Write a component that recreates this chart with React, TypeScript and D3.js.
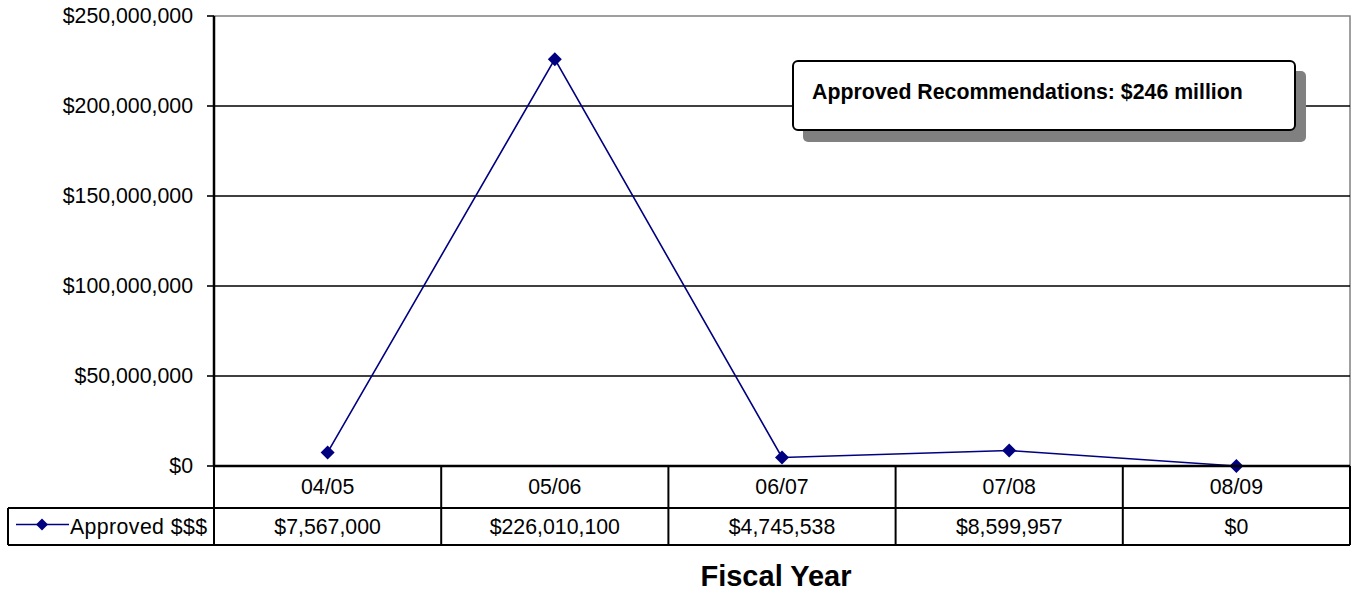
import React from "react";
import * as d3 from "d3";

const categories = ["04/05", "05/06", "06/07", "07/08", "08/09"];
const values = [7567000, 226010100, 4745538, 8599957, 0];
const valueLabels = ["$7,567,000", "$226,010,100", "$4,745,538", "$8,599,957", "$0"];
const yTicks = [0, 50000000, 100000000, 150000000, 200000000, 250000000];
const seriesName = "Approved $$$";
const calloutText = "Approved Recommendations: $246 million";
const axisTitle = "Fiscal Year";

export default function App() {
  const W = 1354, H = 593;
  const left = 214, right = 1350, top = 16, bottom = 466;
  const row1 = 508, row2 = 545;
  const x = d3.scaleBand<string>().domain(categories).range([left, right]);
  const y = d3.scaleLinear().domain([0, 250000000]).range([bottom, top]);
  const fmt = (v: number) => "$" + d3.format(",")(v);
  const line = d3.line<number>().x((_, i) => x(categories[i])! + x.bandwidth() / 2).y((d) => y(d));
  const navy = "#000080";
  const font = "Liberation Sans, Arial, sans-serif";
  const fs = 21.3;
  const diamond = (cx: number, cy: number, r = 7) => `M${cx},${cy - r}L${cx + r},${cy}L${cx},${cy + r}L${cx - r},${cy}Z`;
  return (
    <svg width={W} height={H} style={{ position: "absolute", left: 0, top: 0, background: "#fff" }} fontFamily={font}>
      {/* plot border */}
      <rect x={left} y={top} width={right - left} height={bottom - top} fill="none" stroke="#808080" strokeWidth={1.5} />
      {/* grid lines */}
      {yTicks.slice(1, -1).map((t) => (
        <line key={t} x1={left} x2={right} y1={y(t)} y2={y(t)} stroke="#000" strokeWidth={1.6} />
      ))}
      {/* y axis */}
      <line x1={left} x2={left} y1={top} y2={bottom} stroke="#000" strokeWidth={2.5} />
      {yTicks.map((t) => (
        <g key={t}>
          <line x1={left - 7} x2={left} y1={y(t)} y2={y(t)} stroke="#000" strokeWidth={1.6} />
          <text x={left - 21} y={y(t)} dy="0.35em" textAnchor="end" fontSize={fs}>{fmt(t)}</text>
        </g>
      ))}
      {/* callout */}
      <rect x={803} y={71} width={503} height={71} rx={5} fill="#808080" />
      <rect x={793} y={61} width={502} height={69} rx={5} fill="#fff" stroke="#000" strokeWidth={2} />
      <text x={812} y={92} dy="0.35em" fontSize={fs} fontWeight="bold">{calloutText}</text>
      {/* series line */}
      <path d={line(values)!} fill="none" stroke={navy} strokeWidth={1.6} />
      {values.map((v, i) => (
        <path key={i} d={diamond(x(categories[i])! + x.bandwidth() / 2, y(v))} fill={navy} />
      ))}
      {/* data table */}
      <line x1={left} x2={right} y1={bottom} y2={bottom} stroke="#000" strokeWidth={2.5} />
      <line x1={8} x2={right} y1={row1} y2={row1} stroke="#000" strokeWidth={2} />
      <line x1={8} x2={right} y1={row2} y2={row2} stroke="#000" strokeWidth={2} />
      <line x1={8} x2={8} y1={row1} y2={row2} stroke="#000" strokeWidth={2} />
      <line x1={right} x2={right} y1={bottom} y2={row2} stroke="#000" strokeWidth={2} />
      {categories.map((c) => (
        <line key={c} x1={x(c)!} x2={x(c)!} y1={bottom} y2={row2} stroke="#000" strokeWidth={2} />
      ))}
      {categories.map((c, i) => (
        <g key={"t" + c}>
          <text x={x(c)! + x.bandwidth() / 2} y={(bottom + row1) / 2} dy="0.35em" textAnchor="middle" fontSize={fs}>{c}</text>
          <text x={x(c)! + x.bandwidth() / 2} y={(row1 + row2) / 2} dy="0.35em" textAnchor="middle" fontSize={fs}>{valueLabels[i]}</text>
        </g>
      ))}
      {/* legend key */}
      <line x1={16} x2={69} y1={(row1 + row2) / 2 - 2} y2={(row1 + row2) / 2 - 2} stroke={navy} strokeWidth={1.6} />
      <path d={diamond(42, (row1 + row2) / 2 - 2, 6)} fill={navy} />
      <text x={70} y={(row1 + row2) / 2} dy="0.35em" fontSize={fs} letterSpacing={0.4}>{seriesName}</text>
      {/* axis title */}
      <text x={776} y={576} dy="0.35em" textAnchor="middle" fontSize={29} fontWeight="bold">{axisTitle}</text>
    </svg>
  );
}
